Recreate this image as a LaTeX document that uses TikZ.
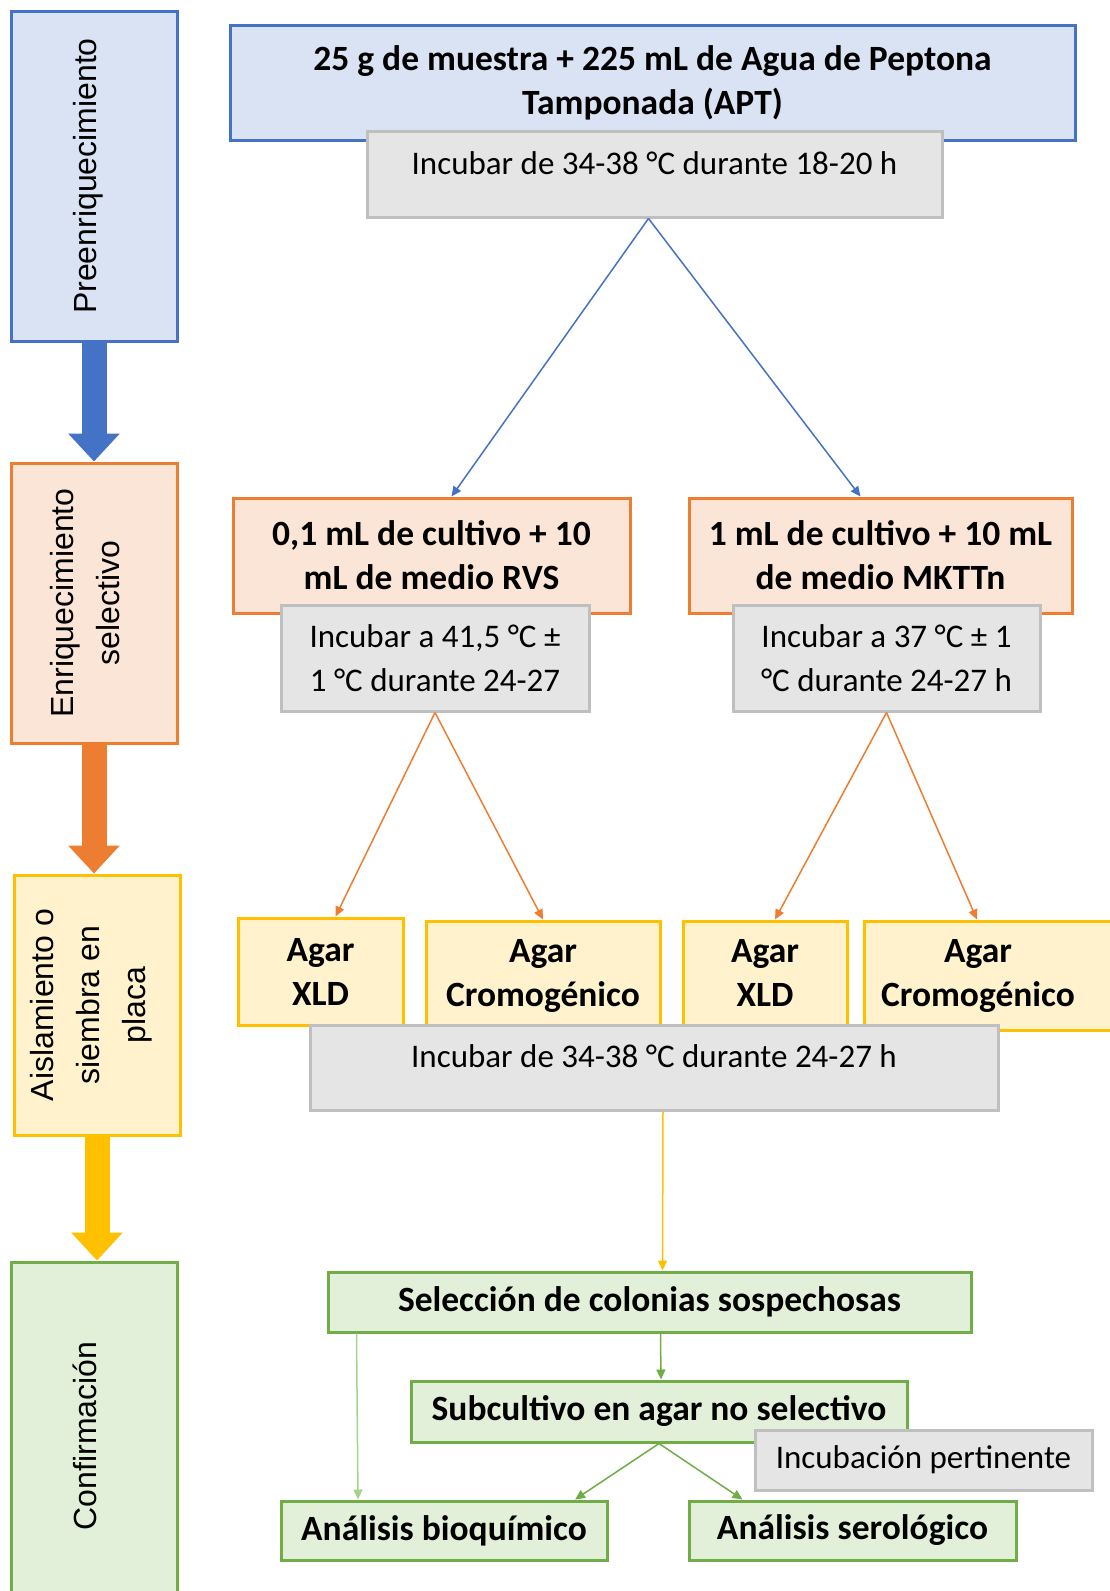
\documentclass[tikz,border=0pt]{standalone}
\usepackage{fontspec}
\setmainfont{Carlito}
\newfontfamily\arialf{Liberation Sans}
\usepackage{graphicx}
\usetikzlibrary{arrows.meta}
\definecolor{bluebd}{HTML}{4472C4}
\definecolor{bluefl}{HTML}{DAE3F3}
\definecolor{orgbd}{HTML}{ED7D31}
\definecolor{orgfl}{HTML}{FBE5D6}
\definecolor{ylwbd}{HTML}{FFC000}
\definecolor{ylwfl}{HTML}{FFF2CC}
\definecolor{grnbd}{HTML}{70AD47}
\definecolor{grnfl}{HTML}{E2F0D9}
\definecolor{grnlt}{HTML}{A9D18E}
\definecolor{grybd}{HTML}{BFBFBF}
\definecolor{gryfl}{HTML}{E5E5E5}
\newcommand{\vtext}[1]{\rotatebox{90}{\begin{tabular}{@{}c@{}}#1\end{tabular}}\hspace*{14pt}}
\begin{document}
\begin{tikzpicture}[x=1pt,y=-1pt,>={Triangle[length=10pt,width=9pt]},line join=miter,
		stage/.style={draw,line width=3pt,font=\arialf\fontsize{32}{46}\selectfont,minimum width=166pt,inner sep=0pt},
		box/.style={draw,line width=3pt,font=\bfseries\fontsize{35.5}{44}\selectfont,align=center,inner sep=0pt},
		inc/.style={draw=grybd,fill=gryfl,line width=3pt,font=\fontsize{33}{44}\selectfont,align=center,inner sep=0pt},
		fat/.style={line width=25pt,-{Triangle[length=28pt,width=50pt]}},
		link/.style={->,line width=1.5pt}]
	\useasboundingbox (0,0) rectangle (1109,1591);
	\node[stage,draw=bluebd,fill=bluefl,minimum height=330pt] (pre) at (94,176) {\vtext{Preenriquecimiento}};
	\node[stage,draw=orgbd,fill=orgfl,minimum height=280pt] (enr) at (94,603) {\vtext{Enriquecimiento\\selectivo}};
	\node[stage,draw=ylwbd,fill=ylwfl,minimum height=260pt] (ais) at (97,1005) {\vtext{Aislamiento o\\siembra en\\placa}};
	\node[stage,draw=grnbd,fill=grnfl,minimum height=348pt] (con) at (94,1436) {\vtext{Confirmación}};
	\draw[fat,bluebd] (pre.south) -- (enr.north);
	\draw[fat,orgbd] (enr.south) -- (enr.south |- ais.north);
	\draw[fat,ylwbd] (ais.south) -- (ais.south |- con.north);
	% preenriquecimiento
	\node[box,draw=bluebd,fill=bluefl,minimum width=845pt,minimum height=115pt] (apt) at (652.5,82.5) {25 g de muestra + 225 mL de Agua de Peptona\\Tamponada (APT)};
	\node[inc,minimum width=575pt,minimum height=86pt,text height=22pt,text depth=22pt] (inc1) at (654.5,174) {Incubar de 34-38 °C durante 18-20 h};
	% enriquecimiento
	\node[box,draw=orgbd,fill=orgfl,minimum width=397pt,minimum height=115pt] (rvs) at (431.5,555.5) {0,1 mL de cultivo + 10\\mL de medio RVS};
	\node[box,draw=orgbd,fill=orgfl,minimum width=383pt,minimum height=115pt] (mkt) at (880.5,555.5) {1 mL de cultivo + 10 mL\\de medio MKTTn};
	\node[inc,minimum width=308pt,minimum height=106pt] (incr) at (435,658) {Incubar a 41,5 °C ±\\1 °C durante 24-27};
	\node[inc,minimum width=307pt,minimum height=106pt] (incm) at (886.5,658) {Incubar a 37 °C ± 1\\°C durante 24-27 h};
	% aislamiento
	\node[box,draw=ylwbd,fill=ylwfl,minimum width=165pt,minimum height=107pt] (xld1) at (320.5,971.5) {Agar\\XLD};
	\node[box,draw=ylwbd,fill=ylwfl,minimum width=234pt,minimum height=109pt] (cro1) at (543,975.5) {Agar\\Cromogénico};
	\node[box,draw=ylwbd,fill=ylwfl,minimum width=164pt,minimum height=104pt] (xld2) at (765,973) {Agar\\XLD};
	\node[box,draw=ylwbd,fill=ylwfl,minimum width=256pt,minimum height=109pt,
		label={[font=\bfseries\fontsize{35.5}{44}\selectfont,align=center,xshift=-14pt]center:Agar\\Cromogénico}] (cro2) at (992,975.5) {};
	\node[inc,minimum width=688pt,minimum height=85pt,text height=22pt,text depth=22pt] (inc3) at (654,1067.5) {Incubar de 34-38 °C durante 24-27 h};
	% confirmacion
	\node[box,draw=grnbd,fill=grnfl,minimum width=643pt,minimum height=60pt] (sel) at (649.5,1302) {Selección de colonias sospechosas};
	\node[box,draw=grnbd,fill=grnfl,minimum width=496pt,minimum height=61pt] (sub) at (659,1411.5) {Subcultivo en agar no selectivo};
	\node[inc,minimum width=337pt,minimum height=60pt] (incp) at (923.5,1460) {Incubación pertinente};
	\node[box,draw=grnbd,fill=grnfl,minimum width=326pt,minimum height=59pt] (bio) at (444,1530.5) {Análisis bioquímico};
	\node[box,draw=grnbd,fill=grnfl,minimum width=327pt,minimum height=59pt] (ser) at (852.5,1530.5) {Análisis serológico};
	\draw[link,bluebd] ([xshift=-6pt]inc1.south) -- ([xshift=20pt]rvs.north);
	\draw[link,bluebd] ([xshift=-6pt]inc1.south) -- ([xshift=-20pt]mkt.north);
	\draw[link,orgbd] (incr.south) -- ([xshift=15pt]xld1.north);
	\draw[link,orgbd] (incr.south) -- (cro1.north);
	\draw[link,orgbd] (incm.south) -- ([xshift=10pt]xld2.north);
	\draw[link,orgbd] (incm.south) -- ([xshift=-15pt]cro2.north);
	\draw[link,ylwbd] ([xshift=9pt]inc3.south) -- ([xshift=13pt]sel.north);
	\draw[link,grnbd] ([xshift=11pt]sel.south) -- ([xshift=2pt]sub.north);
	\draw[link,grnlt] ([xshift=30pt]sel.south west) -- ([xshift=-86pt]bio.north);
	\draw[link,grnbd] (sub.south) -- ([xshift=131pt]bio.north);
	\draw[link,grnbd] (sub.south) -- ([xshift=-110pt]ser.north);
\end{tikzpicture}
\end{document}
